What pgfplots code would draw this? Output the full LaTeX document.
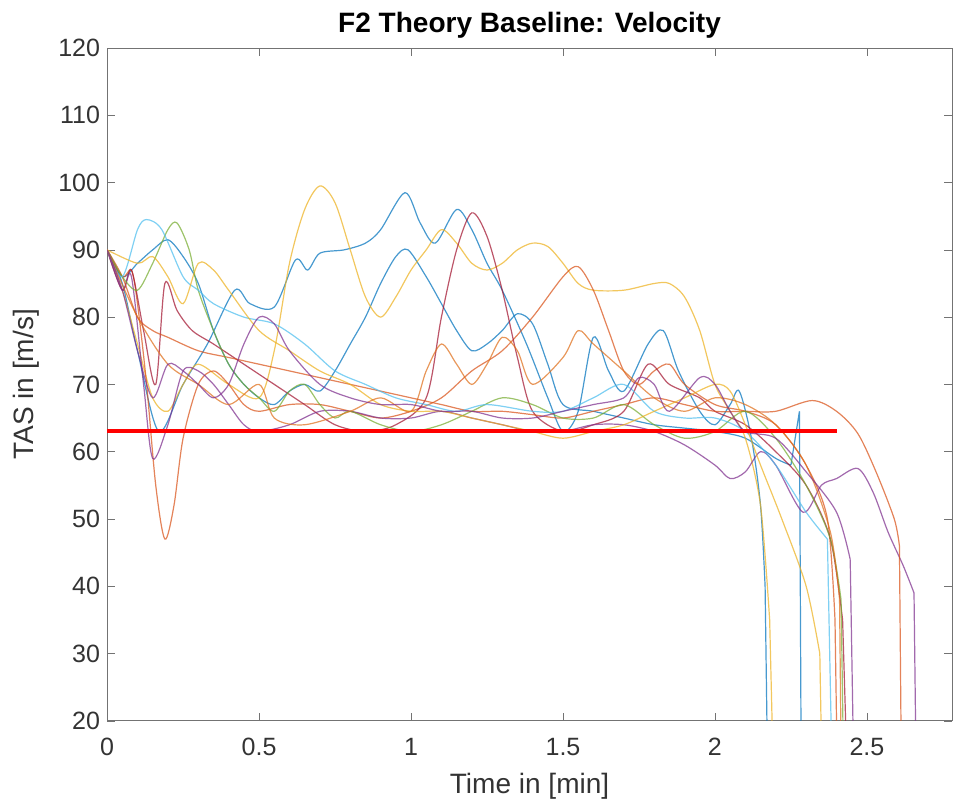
\documentclass[border=0pt]{standalone}
\usepackage{fontspec}
\setmainfont{Liberation Sans}
\usepackage{pgfplots}
\pgfplotsset{compat=1.18}
\definecolor{mB}{HTML}{0072BD}
\definecolor{mO}{HTML}{D95319}
\definecolor{mY}{HTML}{EDB120}
\definecolor{mP}{HTML}{7E2F8E}
\definecolor{mG}{HTML}{77AC30}
\definecolor{mC}{HTML}{4DBEEE}
\definecolor{mR}{HTML}{A2142F}
\begin{document}
\begin{tikzpicture}
\begin{axis}[name=ax, scale only axis, width=422pt, height=336pt,
  xmin=0, xmax=2.78, ymin=20, ymax=120,
  xtick={0,0.5,1,1.5,2,2.5}, ytick={20,30,40,50,60,70,80,90,100,110,120},
  xtick pos=both, ytick pos=both, tick align=inside, major tick length=4pt,
  axis line style={black!55}, tick style={black!55},
  /pgf/number format/assume math mode=true,
  /pgf/number format/fixed,
  tick label style={font=\fontsize{12.5}{14}\selectfont, text=black!80},
  xticklabel style={yshift=-5pt},
  label style={font=\fontsize{14}{16}\selectfont, text=black!80},
  title style={font=\fontsize{14}{16}\selectfont\bfseries, at={(axis description cs:0.5,1)}, anchor=base, yshift=2pt},
  title={F2 Theory Baseline: Velocity},
  xlabel={Time in [min]}, ylabel={TAS in [m/s]},
  xlabel style={at={(axis description cs:0.5,-0.097)}, anchor=center},
  ylabel style={at={(axis description cs:-0.096,0.5)}, anchor=center, rotate=0},
  every axis plot/.append style={line width=0.6pt, opacity=0.72},
  sm/.style={smooth, tension=0.5},
]
% big blue
\addplot[mB,sm] coordinates {(0,90)(0.05,85)(0.1,75)(0.17,63)(0.25,70)(0.33,76)(0.42,84)(0.47,82)(0.55,81.5)(0.62,88.5)(0.66,87)(0.7,89.5)(0.78,90)(0.85,91)(0.9,93)(0.98,98.5)(1.03,94)(1.08,91)(1.15,96)(1.2,93)(1.25,88)(1.3,84)(1.38,76)(1.45,68)(1.5,63)(1.55,66)(1.6,77)(1.65,72)(1.7,69)(1.78,76)(1.83,78)(1.88,72)(1.95,66)(2.0,64)(2.05,67)(2.08,69)(2.12,62)(2.15,52)(2.165,40)};
\addplot[mB] coordinates {(2.165,40)(2.171,20)};
% second blue
\addplot[mB,sm] coordinates {(0,90)(0.05,86)(0.1,88)(0.15,90)(0.2,91.5)(0.25,89)(0.3,85)(0.35,78)(0.4,73)(0.45,70)(0.5,68)(0.55,67)(0.6,69)(0.65,70)(0.7,69)(0.75,72)(0.8,76)(0.85,80)(0.9,85)(0.95,89)(0.99,90)(1.05,86)(1.1,82)(1.15,78)(1.2,75)(1.25,76)(1.3,78)(1.35,80.5)(1.4,79)(1.45,73)(1.5,67)(1.6,66)(1.7,65)(1.8,64)(1.9,63.5)(2.0,63)(2.1,62)(2.2,59)(2.25,58)};
\addplot[mB] coordinates {(2.25,58)(2.278,66)(2.283,20)};
% big yellow
\addplot[mY,sm] coordinates {(0,90)(0.05,84)(0.1,76)(0.15,68)(0.2,66)(0.25,70)(0.3,73)(0.4,70)(0.5,68)(0.55,75)(0.6,88)(0.65,96)(0.7,99.5)(0.75,97)(0.8,90)(0.85,83)(0.9,80)(0.95,83)(1.0,87)(1.05,90)(1.1,93)(1.15,91)(1.2,88)(1.25,87)(1.3,88)(1.35,90)(1.4,91)(1.45,90.5)(1.5,88)(1.55,85)(1.6,84)(1.7,84)(1.8,85)(1.85,85)(1.9,83)(1.95,78)(2.0,70)(2.05,66)(2.1,62)(2.15,52)(2.18,35)};
\addplot[mY] coordinates {(2.18,35)(2.188,20)};
% orange dip 47
\addplot[mO,sm] coordinates {(0,90)(0.05,86)(0.08,87)(0.1,82)(0.13,70)(0.16,55)(0.19,47)(0.22,52)(0.25,62)(0.3,70)(0.35,72)(0.4,70)(0.45,67)(0.5,66)(0.6,67)(0.7,67)(0.8,66)(0.9,65)(1.0,66)(1.1,68)(1.2,72)(1.3,75)(1.4,80)(1.5,86)(1.55,87.5)(1.6,84)(1.65,78)(1.7,72)(1.75,70)(1.8,72)(1.85,73)(1.9,70)(2.0,67)(2.1,66)(2.2,64)(2.3,58)(2.37,50)(2.395,35)};
\addplot[mO] coordinates {(2.395,35)(2.40,20)};
% dark red peak 96
\addplot[mR,sm] coordinates {(0,90)(0.05,84)(0.08,87)(0.12,78)(0.16,70)(0.19,85)(0.23,81)(0.28,78)(0.35,76)(0.45,73)(0.55,70)(0.65,67)(0.75,64)(0.85,63)(0.95,64)(1.05,68)(1.1,80)(1.15,90)(1.2,95.5)(1.25,92)(1.3,84)(1.35,74)(1.4,66)(1.5,63)(1.6,64)(1.7,66)(1.78,73)(1.85,70)(1.95,68)(2.0,66)(2.1,64)(2.2,60)(2.3,55)(2.38,47)(2.42,35)};
\addplot[mR] coordinates {(2.42,35)(2.43,20)};
% purple to 2.66
\addplot[mP,sm] coordinates {(0,90)(0.05,84)(0.08,86)(0.12,70)(0.15,59)(0.2,64)(0.25,72)(0.3,72)(0.35,70)(0.4,67)(0.45,64)(0.5,63)(0.6,64)(0.7,66)(0.8,66)(0.9,65)(1.0,65)(1.1,66)(1.2,65)(1.3,64)(1.4,63)(1.5,63)(1.6,64)(1.7,64)(1.8,63)(1.9,61)(2.0,58)(2.05,56)(2.1,57)(2.15,60)(2.2,58)(2.29,51)(2.35,55)(2.4,56)(2.47,57.5)(2.52,54)(2.57,48)(2.62,43)(2.655,39)};
\addplot[mP] coordinates {(2.655,39)(2.66,20)};
% orange to 2.61
\addplot[mO,sm] coordinates {(0,90)(0.05,86)(0.1,80)(0.15,78)(0.2,77)(0.3,75)(0.4,74)(0.5,73)(0.6,72)(0.7,71)(0.8,70)(0.9,69)(1.0,68)(1.1,67)(1.2,66)(1.3,66)(1.4,65.5)(1.5,65)(1.6,66)(1.7,67)(1.8,68)(1.9,67)(2.0,66)(2.1,66)(2.2,66)(2.32,67.6)(2.4,66)(2.47,62.7)(2.53,57)(2.59,50)(2.607,46)};
\addplot[mO] coordinates {(2.607,46)(2.612,20)};
% green peak 94
\addplot[mG,sm] coordinates {(0,90)(0.05,86)(0.1,84)(0.15,88)(0.2,93)(0.23,94)(0.27,90)(0.3,84)(0.35,78)(0.4,73)(0.45,70)(0.5,68)(0.55,66)(0.6,69)(0.65,70)(0.7,67)(0.75,65)(0.8,66)(0.9,64)(1.0,63)(1.1,64)(1.2,66)(1.3,68)(1.4,67)(1.5,65)(1.6,65)(1.7,67)(1.8,64)(1.9,62)(2.0,63)(2.1,66)(2.2,62)(2.3,55)(2.38,47)(2.415,38)};
\addplot[mG] coordinates {(2.415,38)(2.421,20)};
% light blue peak 94.5
\addplot[mC,sm] coordinates {(0,90)(0.05,86)(0.1,93)(0.13,94.5)(0.18,93)(0.25,86)(0.3,84)(0.35,82)(0.45,80)(0.55,79)(0.65,76)(0.75,72)(0.85,70)(0.95,68)(1.05,67)(1.15,66)(1.25,67)(1.4,66)(1.5,66)(1.6,68)(1.7,70)(1.8,66)(1.9,65)(2.0,65)(2.1,63)(2.2,58)(2.3,51)(2.37,47)};
\addplot[mC] coordinates {(2.37,47)(2.382,20)};
% yellow 2
\addplot[mY,sm] coordinates {(0,90)(0.1,88)(0.15,89)(0.2,86)(0.25,82)(0.3,88)(0.35,87)(0.4,84)(0.5,78)(0.6,75)(0.7,72)(0.8,70)(0.9,67)(1.0,66)(1.1,66)(1.2,65)(1.3,64)(1.4,63)(1.5,62)(1.6,63)(1.7,64)(1.8,66)(1.9,68)(2.0,70)(2.05,69)(2.1,64)(2.15,58)(2.22,50)(2.3,40)(2.345,30)};
\addplot[mY] coordinates {(2.345,30)(2.349,20)};
% light orange
\addplot[mO!70!mY,sm] coordinates {(0,90)(0.1,80)(0.2,73)(0.3,70)(0.4,67)(0.5,70)(0.55,65)(0.65,64)(0.8,66)(0.9,68)(1.0,66)(1.05,72)(1.1,76)(1.15,73)(1.2,70)(1.25,73)(1.3,77)(1.35,75)(1.4,70)(1.5,74)(1.55,78)(1.6,76)(1.7,72)(1.8,68)(1.9,66)(2.0,68)(2.1,67)(2.2,64)(2.3,58)(2.38,48)(2.41,38)};
\addplot[mO!70!mY] coordinates {(2.41,38)(2.414,20)};
% purple 2 peak 80
\addplot[mP,sm] coordinates {(0,90)(0.05,84)(0.1,75)(0.15,68)(0.2,73)(0.25,72)(0.3,70)(0.35,68)(0.4,70)(0.45,76)(0.5,80)(0.55,79)(0.6,75)(0.7,70)(0.8,68)(0.9,67)(1.0,67)(1.1,66)(1.2,66)(1.3,65)(1.4,65)(1.5,66)(1.6,67)(1.7,68)(1.75,71)(1.8,70)(1.85,66)(1.95,71)(2.0,70)(2.05,66)(2.1,63)(2.2,62)(2.3,57)(2.4,51)(2.445,44)};
\addplot[mP] coordinates {(2.445,44)(2.454,20)};
% baseline
\addplot[red, line width=2pt, opacity=1] coordinates {(0,63)(2.4,63)};
\end{axis}
\pgfresetboundingbox
\path ([xshift=-53.5pt,yshift=-43pt]ax.south west) rectangle ([xshift=1pt,yshift=24pt]ax.north east);
\end{tikzpicture}
\end{document}
